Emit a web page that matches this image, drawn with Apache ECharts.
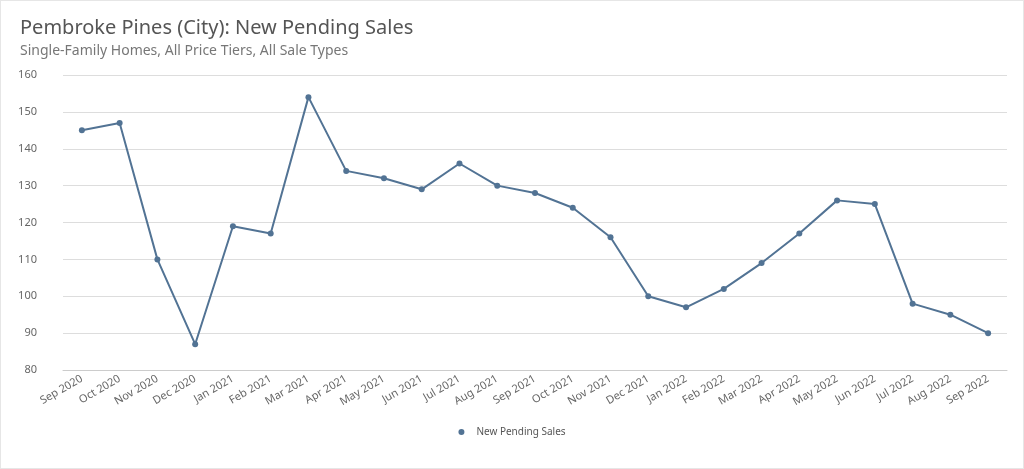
<!DOCTYPE html>
<html><head><meta charset="utf-8">
<script src="https://cdn.jsdelivr.net/npm/echarts@6/dist/echarts.min.js"></script>
<style>html,body{margin:0;padding:0;background:#fff}#c{width:1024px;height:469px;box-sizing:border-box;border:1px solid #e6e6e6}</style>
</head><body><div id="c"></div>
<script>
const categories=["Sep 2020","Oct 2020","Nov 2020","Dec 2020","Jan 2021","Feb 2021","Mar 2021","Apr 2021","May 2021","Jun 2021","Jul 2021","Aug 2021","Sep 2021","Oct 2021","Nov 2021","Dec 2021","Jan 2022","Feb 2022","Mar 2022","Apr 2022","May 2022","Jun 2022","Jul 2022","Aug 2022","Sep 2022"];
const pendingSales=[145,147,110,87,119,117,154,134,132,129,136,130,128,124,116,100,97,102,109,117,126,125,98,95,90];
const chart=echarts.init(document.getElementById('c'));
chart.setOption({
  title:{text:'Pembroke Pines (City): New Pending Sales',subtext:'Single-Family Homes, All Price Tiers, All Sale Types',left:14,top:12,itemGap:6,
    textStyle:{fontFamily:'Noto Sans',fontSize:20,fontWeight:'normal',color:'#555'},
    subtextStyle:{fontFamily:'Noto Sans',fontSize:14,color:'#777'}},
  legend:{bottom:26,icon:'circle',itemWidth:20,itemHeight:6,textStyle:{fontFamily:'Noto Sans',fontSize:10,color:'#555'},data:['New Pending Sales']},
  grid:{left:62,right:16,top:74,bottom:98},
  xAxis:{type:'category',data:categories,boundaryGap:true,
    axisLine:{lineStyle:{color:'#ccc'}},axisTick:{show:false},
    axisLabel:{rotate:30,fontFamily:'Noto Sans',fontSize:11,color:'#666',interval:0,margin:8}},
  yAxis:{type:'value',min:80,max:160,interval:10,
    axisLabel:{fontFamily:'Noto Sans',fontSize:11,color:'#666',margin:26},
    splitLine:{lineStyle:{color:'#ddd'}}},
  series:[{name:'New Pending Sales',type:'line',data:pendingSales,symbol:'circle',symbolSize:6,
    itemStyle:{color:'#527394'},lineStyle:{color:'#527394',width:2}}]
});
</script></body></html>
